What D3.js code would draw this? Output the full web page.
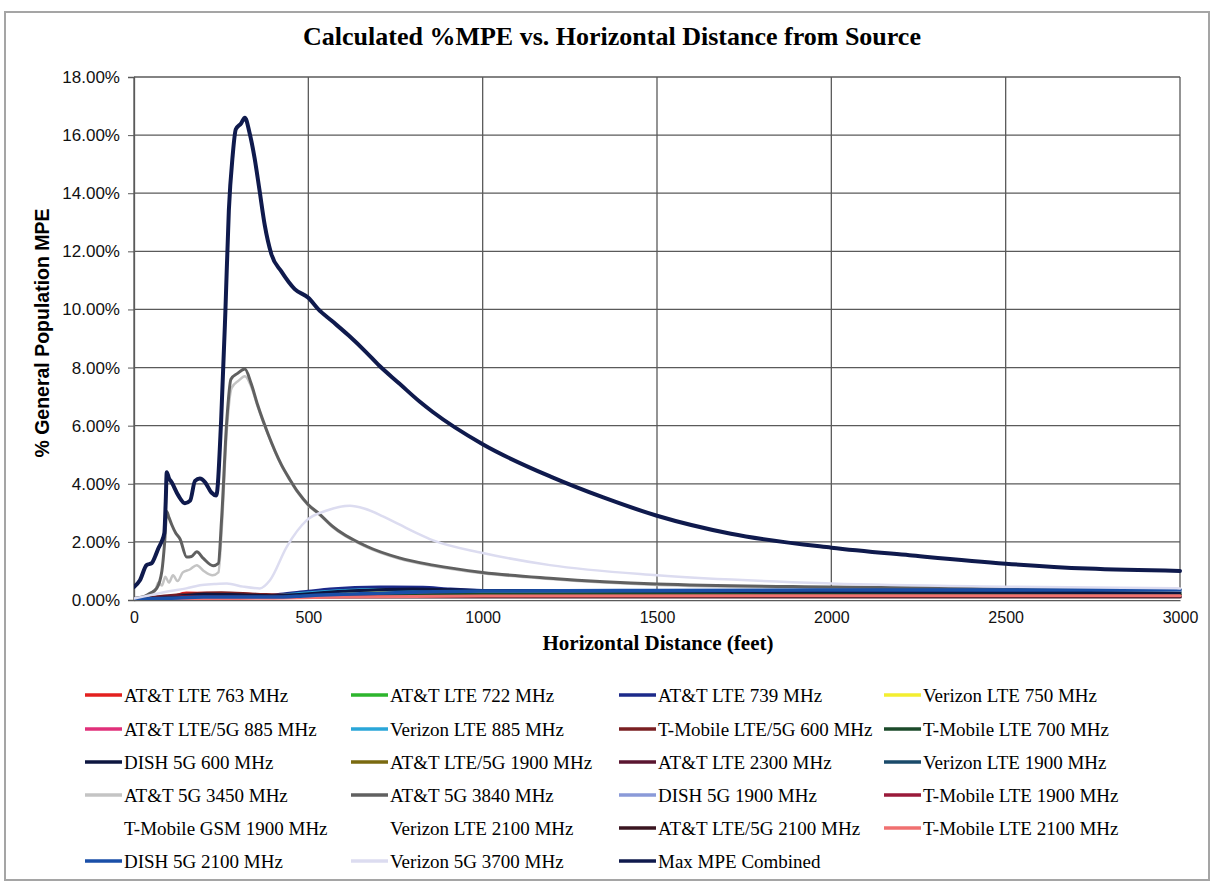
<!DOCTYPE html>
<html>
<head>
<meta charset="utf-8">
<script src="https://cdn.jsdelivr.net/npm/d3@7"></script>
<style>
  body { margin: 0; background: #fff; }
  .tick text { font-family: "Liberation Sans", Arial, sans-serif; fill: #111; }
</style>
</head>
<body>
<div id="chart"></div>
<script>
// Distances in feet, values in % of general population MPE
var xTicks = [0, 500, 1000, 1500, 2000, 2500, 3000];
var yTicks = [0, 2, 4, 6, 8, 10, 12, 14, 16, 18];

var att763 = [[0,0.02],[100,0.08],[150,0.24],[250,0.22],[350,0.18],[450,0.1],[600,0.1],[800,0.12],[1000,0.15],[1500,0.17],[2000,0.17],[3000,0.17]];
var att722 = [[0,0.01],[200,0.08],[500,0.1],[1000,0.18],[3000,0.2]];
var att739 = [[0,0.02],[150,0.15],[250,0.15],[350,0.1],[419,0.2],[500,0.3],[562,0.38],[705,0.45],[829,0.44],[900,0.38],[1000,0.33],[1500,0.32],[2000,0.31],[3000,0.3]];
var vz750 = [[0,0.01],[300,0.05],[600,0.25],[1000,0.28],[3000,0.25]];
var att885 = [[0,0.01],[300,0.05],[700,0.12],[1500,0.15],[3000,0.15]];
var vz885 = [[0,0.02],[200,0.1],[400,0.15],[500,0.25],[600,0.33],[700,0.36],[850,0.33],[1000,0.3],[2000,0.28],[3000,0.27]];
var tmo600 = [[0,0.03],[150,0.2],[250,0.25],[350,0.2],[500,0.15],[1000,0.2],[3000,0.2]];
var tmo700 = [[0,0.02],[200,0.12],[500,0.12],[1000,0.2],[3000,0.2]];
var dish600 = [[0,0.05],[100,0.1],[200,0.2],[300,0.18],[400,0.15],[600,0.3],[800,0.38],[1000,0.33],[2000,0.28],[3000,0.25]];
var att1900 = [[0,0.02],[150,0.1],[300,0.08],[1000,0.1],[3000,0.1]];
var att2300 = [[0,0.02],[150,0.12],[300,0.1],[1000,0.08],[3000,0.07]];
var vz1900 = [[0,0.02],[150,0.1],[300,0.08],[1000,0.12],[3000,0.12]];
var att3450 = [[0,0.02],[40,0.15],[60,0.3],[70,0.6],[80,0.5],[90,0.8],[100,0.6],[112,0.85],[125,0.65],[140,0.95],[160,1.05],[180,1.2],[200,1.0],[225,0.85],[242,0.95],[252,2.5],[266,5.8],[280,7.3],[300,7.55],[318,7.7],[336,7.35],[355,6.65],[384,5.7],[423,4.62],[447,4.12],[471,3.67],[500,3.25],[533,2.92],[568,2.52],[667,1.82],[761,1.42],[858,1.17],[1000,0.92],[1193,0.72],[1500,0.52],[2000,0.42],[2500,0.37],[3000,0.33]];
var att3840 = [[0,0.05],[30,0.12],[46,0.23],[65,0.4],[80,1.0],[88,2.0],[94,3.05],[100,2.85],[108,2.6],[120,2.3],[132,2.1],[151,1.48],[165,1.5],[180,1.66],[199,1.43],[227,1.18],[242,1.26],[251,2.74],[266,6.16],[278,7.6],[297,7.8],[318,7.95],[336,7.45],[355,6.7],[384,5.73],[423,4.65],[447,4.15],[471,3.7],[500,3.28],[533,2.95],[568,2.55],[667,1.85],[761,1.45],[858,1.2],[1000,0.95],[1193,0.75],[1500,0.55],[2000,0.45],[2500,0.4],[3000,0.36]];
var dish1900 = [[0,0.02],[150,0.08],[300,0.08],[1000,0.1],[3000,0.1]];
var tmo1900 = [[0,0.02],[150,0.12],[300,0.1],[1000,0.1],[3000,0.1]];
var tmoGsm1900 = [[0,0.01],[1000,0.05],[3000,0.05]];
var vz2100 = [[0,0.01],[1000,0.05],[3000,0.05]];
var att2100 = [[0,0.02],[150,0.1],[300,0.1],[1000,0.1],[3000,0.1]];
var tmo2100 = [[0,0.01],[200,0.05],[400,0.06],[600,0.1],[1000,0.14],[2000,0.15],[3000,0.15]];
var dish2100 = [[0,0.03],[100,0.06],[200,0.1],[300,0.1],[400,0.1],[500,0.15],[600,0.2],[800,0.27],[1000,0.31],[1500,0.33],[2000,0.34],[2500,0.34],[3000,0.35]];
var vz3700 = [[0,0.05],[60,0.2],[100,0.3],[150,0.4],[189,0.51],[230,0.55],[266,0.57],[313,0.46],[361,0.4],[390,0.68],[438,1.83],[495,2.74],[553,3.08],[619,3.24],[660,3.15],[714,2.88],[761,2.6],[811,2.3],[858,2.05],[1000,1.62],[1193,1.2],[1500,0.85],[2000,0.57],[2500,0.46],[3000,0.4]];
var maxCombined = [[0,0.45],[17,0.68],[36,1.2],[51,1.27],[60,1.48],[70,1.78],[79,2.0],[87,2.3],[91,3.4],[94,4.4],[100,4.2],[108,4.05],[127,3.6],[146,3.33],[161,3.42],[175,4.1],[189,4.18],[204,4.05],[222,3.7],[236,3.6],[250,6.2],[262,9.9],[272,13.4],[283,15.3],[292,16.2],[307,16.4],[318,16.6],[331,16.1],[346,15.2],[360,14.1],[375,12.9],[394,11.9],[423,11.3],[461,10.7],[500,10.4],[529,10.0],[568,9.6],[616,9.1],[664,8.55],[703,8.07],[761,7.45],[819,6.83],[857,6.47],[1000,5.36],[1200,4.22],[1346,3.53],[1500,2.9],[1712,2.28],[2000,1.8],[2224,1.54],[2500,1.25],[2735,1.08],[3000,1.0]];

var seriesNames = ["AT&T LTE 763 MHz", "AT&T LTE 722 MHz", "AT&T LTE 739 MHz", "Verizon LTE 750 MHz",
  "AT&T LTE/5G 885 MHz", "Verizon LTE 885 MHz", "T-Mobile LTE/5G 600 MHz", "T-Mobile LTE 700 MHz",
  "DISH 5G 600 MHz", "AT&T LTE/5G 1900 MHz", "AT&T LTE 2300 MHz", "Verizon LTE 1900 MHz",
  "AT&T 5G 3450 MHz", "AT&T 5G 3840 MHz", "DISH 5G 1900 MHz", "T-Mobile LTE 1900 MHz",
  "T-Mobile GSM 1900 MHz", "Verizon LTE 2100 MHz", "AT&T LTE/5G 2100 MHz", "T-Mobile LTE 2100 MHz",
  "DISH 5G 2100 MHz", "Verizon 5G 3700 MHz", "Max MPE Combined"];
var seriesValues = [att763, att722, att739, vz750, att885, vz885, tmo600, tmo700, dish600, att1900,
  att2300, vz1900, att3450, att3840, dish1900, tmo1900, tmoGsm1900, vz2100, att2100, tmo2100,
  dish2100, vz3700, maxCombined];

// styles
var seriesColors = ["#e3201f", "#2db52d", "#1c2a8a", "#f3ee30", "#e0307a", "#2aa6d8", "#7a1f22", "#1b4a2a",
  "#0d1640", "#7a6a10", "#5a1530", "#1a4a6a", "#c4c4c4", "#606060", "#8a9ad8", "#9a1a3a",
  "#ffffff", "#ffffff", "#3a1520", "#f07070", "#1a4fa8", "#dcdcf0", "#0f1a4d"];
var seriesWidths = [3, 3, 3, 3, 3, 3, 3, 3, 3, 3, 3, 3, 2.5, 3, 3, 3, 3, 3, 3, 3, 3.5, 2.5, 4];

var svgWidth = 1215, svgHeight = 884;
var margin = { top: 77, right: 35, bottom: 284, left: 134 };
var width = svgWidth - margin.left - margin.right;
var height = svgHeight - margin.top - margin.bottom;

var svg = d3.select("#chart").append("svg")
  .attr("width", svgWidth)
  .attr("height", svgHeight);

// outer frame
svg.append("rect")
  .attr("x", 5).attr("y", 12)
  .attr("width", 1204).attr("height", 868)
  .attr("fill", "none")
  .attr("stroke", "#a5a5a5")
  .attr("stroke-width", 2);

svg.append("text")
  .attr("x", 612).attr("y", 45)
  .attr("text-anchor", "middle")
  .style("font-family", "'Liberation Serif', serif")
  .style("font-weight", "bold")
  .style("font-size", "26px")
  .text("Calculated %MPE vs. Horizontal Distance from Source");

var chartGroup = svg.append("g")
  .attr("transform", `translate(${margin.left}, ${margin.top})`);

var xScale = d3.scaleLinear().domain([0, 3000]).range([0, width]);
var yScale = d3.scaleLinear().domain([0, 18]).range([height, 0]);

// gridlines
chartGroup.append("g")
  .selectAll("line")
  .data(yTicks)
  .enter().append("line")
  .attr("x1", 0).attr("x2", width)
  .attr("y1", d => yScale(d)).attr("y2", d => yScale(d))
  .attr("stroke", "#5a5a5a").attr("stroke-width", 1.3);

chartGroup.append("g")
  .selectAll("line")
  .data(xTicks)
  .enter().append("line")
  .attr("x1", d => xScale(d)).attr("x2", d => xScale(d))
  .attr("y1", 0).attr("y2", height)
  .attr("stroke", "#5a5a5a").attr("stroke-width", 1.3);

// axes
var leftAxis = d3.axisLeft(yScale).tickValues(yTicks)
  .tickFormat(d => d.toFixed(2) + "%").tickSize(6).tickPadding(8);
var bottomAxis = d3.axisBottom(xScale).tickValues(xTicks)
  .tickFormat(d3.format("d")).tickSize(0).tickPadding(12);

var yAxisG = chartGroup.append("g").call(leftAxis);
yAxisG.select(".domain").attr("stroke", "#5a5a5a").attr("stroke-width", 1.3);
yAxisG.selectAll(".tick line").attr("stroke", "#5a5a5a");
yAxisG.selectAll("text").style("font-size", "17px");

var xAxisG = chartGroup.append("g")
  .attr("transform", `translate(0, ${height})`)
  .call(bottomAxis);
xAxisG.select(".domain").attr("stroke", "#5a5a5a").attr("stroke-width", 1.3);
xAxisG.selectAll("text").style("font-size", "16px");

// series lines
chartGroup.append("clipPath").attr("id", "plotClip")
  .append("rect").attr("x", 0).attr("y", -2).attr("width", width + 2).attr("height", height + 2);

var line = d3.line()
  .x(d => xScale(d[0]))
  .y(d => yScale(d[1]))
  .curve(d3.curveMonotoneX);

chartGroup.append("g")
  .attr("clip-path", "url(#plotClip)")
  .selectAll("path")
  .data(seriesValues)
  .enter().append("path")
  .attr("d", d => line(d))
  .attr("fill", "none")
  .attr("stroke", (d, i) => seriesColors[i])
  .attr("stroke-width", (d, i) => seriesWidths[i])
  .attr("stroke-linejoin", "round")
  .attr("stroke-linecap", "round");

// axis labels
svg.append("text")
  .attr("transform", "rotate(-90)")
  .attr("x", -333).attr("y", 49)
  .attr("text-anchor", "middle")
  .style("font-family", "'Liberation Sans', Arial, sans-serif")
  .style("font-weight", "bold")
  .style("font-size", "19.5px")
  .text("% General Population MPE");

svg.append("text")
  .attr("x", 658).attr("y", 650)
  .attr("text-anchor", "middle")
  .style("font-family", "'Liberation Serif', serif")
  .style("font-weight", "bold")
  .style("font-size", "21px")
  .text("Horizontal Distance (feet)");

// legend: 4 columns, row-major
var legendX = [85, 351, 619, 884];
var legendY = [695, 729, 762, 795, 828, 861];

var legend = svg.append("g")
  .selectAll("g")
  .data(seriesNames)
  .enter().append("g")
  .attr("transform", (d, i) => `translate(${legendX[i % 4]}, ${legendY[Math.floor(i / 4)]})`);

legend.append("line")
  .attr("x1", 0).attr("x2", 37)
  .attr("y1", 0).attr("y2", 0)
  .attr("stroke", (d, i) => seriesColors[i])
  .attr("stroke-width", 3.5);

legend.append("text")
  .attr("x", 39).attr("y", 0)
  .attr("dy", "0.35em")
  .style("font-family", "'Liberation Serif', serif")
  .style("font-size", "19px")
  .text(d => d);
</script>
</body>
</html>
